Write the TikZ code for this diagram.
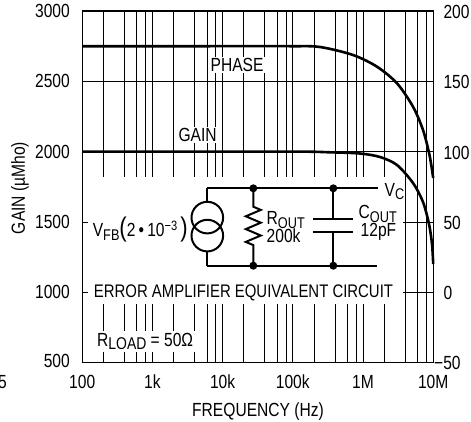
\documentclass[tikz,border=0pt]{standalone}
\usepackage{fontspec}
\usetikzlibrary{calc}
\setmainfont{Liberation Sans}[FakeStretch=0.82]
\newcommand\sbs[1]{\raisebox{-3.5pt}{\fontsize{15.5}{15}\selectfont #1}}
\newcommand\sps[1]{\raisebox{6.5pt}{\fontsize{13.5}{13}\selectfont #1}}
\newcommand\bigp[1]{{\fontsize{27}{27}\selectfont #1}}
\begin{document}
\begin{tikzpicture}[x=1pt,y=-1pt,
  gridline/.style={line width=0.8pt},
  framebox/.style={line width=1.2pt},
  curveline/.style={line width=2.6pt},
  wire/.style={line width=2pt},
  lab/.style={font=\fontsize{19}{21}\selectfont, inner sep=0pt},
  bglab/.style={lab, fill=white, inner sep=1.5pt},
  jdot/.style={circle, fill=black, inner sep=0pt, minimum size=8pt},
  srccircle/.style={circle, draw, line width=2pt, inner sep=0pt, minimum size=31.6pt}]
\useasboundingbox (0,0) rectangle (471,421);
\def\xl{82.2}\def\xr{433.2}\def\yt{11}\def\yb{362.6}\def\dec{70.2}
% vertical grid
\foreach \d in {0,...,4}{
  \foreach \m in {0.30103,0.60206,0.77815,0.90309,1}{
    \draw[gridline] ({\xl+\dec*(\d+\m)},\yt) -- ({\xl+\dec*(\d+\m)},\yb);
  }
}
% horizontal grid
\foreach \yy in {81.3,151.6,221.9,292.3}{
  \draw[gridline] (\xl,\yy) -- (\xr,\yy);
}
% white inset area
\fill[white] (88,177) rectangle (403,304);
% frame
\draw[framebox] (\xl,\yt) rectangle (\xr,\yb);
% curve labels
\node[bglab, anchor=base west] (phl) at (209,71.5) {PHASE};
\node[bglab, anchor=base west] (gnl) at (176.8,141.5) {GAIN};
% curves
\draw[curveline] plot[smooth] coordinates {(\xl,46.2) (200,46.2) (290,46.2) (320,47) (353,55) (377,66.7) (397,83.3) (413,106.7) (423,130) (429.5,155) (433.2,178)};
\draw[curveline] plot[smooth] coordinates {(\xl,151.6) (200,151.6) (300,151.6) (330,152.3) (360,153.5) (380,157) (397,165) (413,183) (423,202) (429,224) (432,244) (433.2,264)};
% left axis labels
\foreach \v/\yy in {3000/11,2500/81.3,2000/151.6,1500/221.9,1000/292.3,500/360.5}{
  \node[lab, anchor=east] at (70,\yy) {\v};
}
% right axis labels
\foreach \v/\yy in {200/12,150/82.3,100/152.6,50/222.9,0/293.3}{
  \node[lab, anchor=west] at (443.3,\yy) {\v};
}
\node[lab, anchor=west] (m50) at (434,362.6) {−50};
% bottom labels
\foreach \v/\xx in {100/82.2,1k/152.4,10k/222.6,100k/292.8,1M/363,10M/433.2}{
  \node[lab, anchor=base] at (\xx,388.3) {\v};
}
\node[lab, anchor=base east] (five) at (7,388.3) {5};
\node[lab, anchor=base] (xlab) at (258,416) {FREQUENCY (Hz)};
\node[lab, rotate=90] (ylab) at (20,188) {GAIN (µMho)};
% circuit
\coordinate (tl) at (207.3,188.3);
\coordinate (bl) at (207.3,265.7);
\coordinate (tr) at (378.3,188.3);
\coordinate (br) at (377,265.7);
\node[jdot] (rt) at (253.3,188.3) {};
\node[jdot] (rb) at (253.3,265.7) {};
\node[jdot] (ct) at (333.3,188.3) {};
\node[jdot] (cb) at (333.3,265.7) {};
\node[srccircle] (s1) at (207.3,217.6) {};
\node[srccircle] (s2) at (207.3,235.6) {};
\draw[wire] (tl) -- (tr);
\draw[wire] (bl) -- (br);
\draw[wire] (tl) -- (s1.north);
\draw[wire] (s2.south) -- (bl);
\draw[wire, line join=miter] (rt.center) -- (253.3,206.7) -- (260.8,209.9) -- (245.8,216.3) -- (260.8,222.7) -- (245.8,229.1) -- (260.8,235.5) -- (245.8,241.9) -- (253.3,245.1) -- (rb.center);
\coordinate (p1) at (333.3,219.3);
\coordinate (p2) at (333.3,231.7);
\draw[wire] (ct.center) -- (p1);
\draw[wire] (p2) -- (cb.center);
\draw[wire] ($(p1)+(-20,0)$) -- ($(p1)+(20,0)$);
\draw[wire] ($(p2)+(-20,0)$) -- ($(p2)+(20,0)$);
% circuit labels
\node[lab, anchor=base east] (vfb) at (188,236.5) {V\sbs{FB}\bigp{(}2\,•\,10\sps{−3}\,\bigp{)}};
\node[lab, anchor=base west] (rout) at (266.5,224.5) {R\sbs{OUT}};
\node[lab, anchor=base west] (rval) at (266.5,242) {200k};
\node[lab, anchor=base west] (cout) at (358.5,218.5) {C\sbs{OUT}};
\node[lab, anchor=base west] (cval) at (360.5,236) {12pF};
\node[lab, anchor=base west] (vc) at (384.5,196) {V\sbs{C}};
\node[lab, anchor=base, font=\fontsize{18.2}{20}\selectfont] (title) at (243.5,297.5) {ERROR AMPLIFIER EQUIVALENT CIRCUIT};
\node[bglab, anchor=base west, inner sep=2pt] (rload) at (95,346) {R\raisebox{-3.5pt}{\fontsize{17}{16}\selectfont LOAD} = 50Ω};
\end{tikzpicture}
\end{document}
